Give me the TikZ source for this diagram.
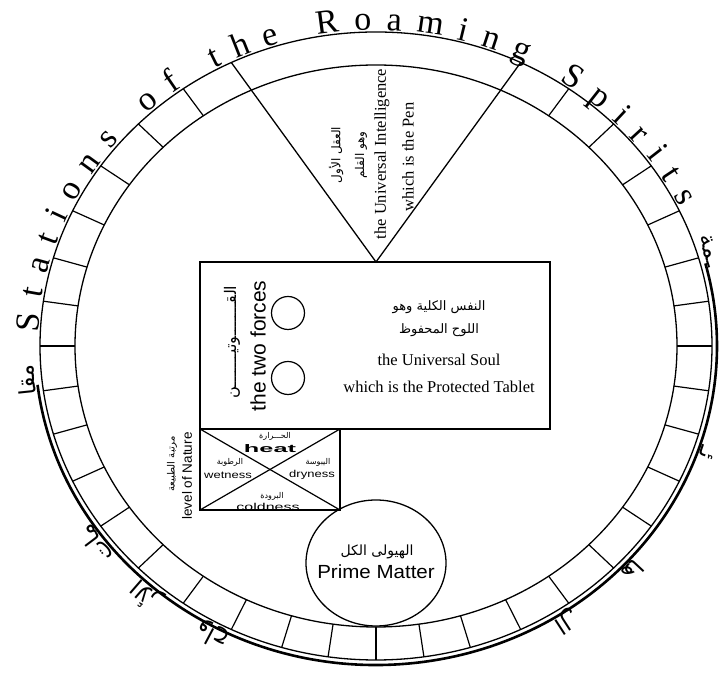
\documentclass[tikz,border=0pt]{standalone}
\usepackage{fontspec}
\usepackage{graphicx}
\setmainfont{Liberation Serif}
\newfontfamily\sansf{Liberation Sans}
\newfontfamily\arabicfont[Script=Arabic]{DejaVu Sans}
\TeXXeTstate=1
\usetikzlibrary{decorations.text,shapes.geometric}
\newcommand\setfs[1]{\fontsize{#1}{#1}\selectfont}
\newcommand\arx[1]{{\arabicfont\beginR #1\endR}}
\newcommand\toptext{\fontsize{34}{34}\selectfont\rmfamily}
\tikzset{
  ringline/.style={line width=1.3pt},
  tickline/.style={line width=1.2pt},
  boxline/.style={line width=1.3pt},
  thickarc/.style={line width=2.6pt},
  outerar/.style={font=\arabicfont\setfs{23}, inner sep=0pt, anchor=base},
  vtext/.style={rotate=90, inner sep=0pt},
  serifl/.style={font=\rmfamily\setfs{16.5}, inner sep=0pt},
  smallar/.style={font=\arabicfont\setfs{8}, inner sep=0pt},
  widelab/.style={font=\sansf\setfs{10}, inner sep=0pt}
}
\begin{document}
\begin{tikzpicture}[x=1pt,y=1pt]
\useasboundingbox (0,0) rectangle (726,676);
\coordinate (C) at (376,330);
\begin{scope}[shift={(C)}]
  \draw[ringline] (0,0) ellipse [x radius=336, y radius=314];
  \draw[ringline] (0,0) ellipse [x radius=301, y radius=281];
  \foreach \a in {0,8.2,16.3,25.5,35,45,55,125,135,145,154.5,163.7,171.8,180,
                  188.2,196.3,205.5,215,225,235,244.5,253.7,261.8,270,
                  278.2,286.3,295.5,305,315,325,334.5,343.7,351.8}
    \draw[tickline] (\a:301 and 281) -- (\a:336 and 314);
  \draw[thickarc] (187:341 and 319) arc[start angle=187, end angle=375, x radius=341, y radius=319];
  \path[decorate, decoration={text along path,
      text={|\toptext|Stations of the Roaming Spirits},
      text align={fit to path}, raise=1pt}]
    (177.5:337 and 315) arc[start angle=177.5, end angle=26, x radius=337, y radius=315];
  % Arabic calligraphic title along the lower arc
  \node[outerar, rotate=96]  (o1) at (186:343 and 321) {\arx{مقا}};
  \node[outerar, rotate=127] (o2) at (217:343 and 321) {\arx{مات}};
  \node[outerar, rotate=139] (o3) at (229:343 and 321) {\arx{الأر}};
  \node[outerar, rotate=152] (o4) at (242:343 and 321) {\arx{واح}};
  \node[outerar, rotate=213] (o5) at (303:343 and 321) {\arx{ال}};
  \node[outerar, rotate=227] (o6) at (317:343 and 321) {\arx{ها}};
  \node[outerar, rotate=251] (o7) at (341:343 and 321) {\arx{ئـ}};
  \node[outerar, rotate=288] (o8) at (17:343 and 321) {\arx{ـمة}};
  \coordinate (TL) at (115.5:336 and 314);
  \coordinate (TR) at (64.5:336 and 314);
\end{scope}
% triangle
\coordinate (A) at (376,414);
\draw[boxline] (TL) -- (A) -- (TR);
% main rectangle
\coordinate (R1) at (200,247);
\coordinate (R2) at (550,414);
\draw[boxline] (R1) rectangle (R2);
% nature box
\coordinate (N1) at (200,166);
\coordinate (N2) at (340,247);
\coordinate (N3) at (200,247);
\coordinate (N4) at (340,166);
\draw[boxline] (N1) rectangle (N2);
\draw[tickline] (N1) -- (N2);
\draw[tickline] (N3) -- (N4);
% two small circles
\node[draw, circle, line width=1.2pt, minimum size=33pt, inner sep=0pt] (c1) at (288,363) {};
\node[draw, circle, line width=1.2pt, minimum size=33pt, inner sep=0pt] (c2) at (288,298) {};
% prime matter
\node[draw, ellipse, line width=1.3pt, minimum width=140pt, minimum height=126pt, inner sep=0pt] (pm) at (376,113) {};
\node[font=\arabicfont\setfs{14}, inner sep=0pt] (pma) at (377,124) {\arx{الهيولى الكل}};
\node[font=\sansf\setfs{19}, inner sep=0pt] (pmb) at (376,104) {\scalebox{1.08}[1]{Prime Matter}};
% triangle texts
\node[vtext, font=\arabicfont\setfs{12}] (t1) at (336,521) {\arx{العقل الأول}};
\node[vtext, font=\arabicfont\setfs{12}] (t2) at (361,521) {\arx{وهو القلم}};
\node[vtext, font=\rmfamily\setfs{16.5}] (t3) at (382,522) {the Universal Intelligence};
\node[vtext, font=\rmfamily\setfs{16.5}] (t4) at (408,519) {which is the Pen};
% rectangle texts
\node[vtext, font=\arabicfont\setfs{16}] (f1) at (232,334) {\arx{القـــــــوتيـــــــن}};
\node[vtext, font=\sansf\setfs{21}] (f2) at (258,330) {the two forces};
\node[font=\arabicfont\setfs{13}, inner sep=0pt] (s1) at (439,369) {\arx{النفس الكلية وهو}};
\node[font=\arabicfont\setfs{13}, inner sep=0pt] (s2) at (439,346) {\arx{اللوح المحفوظ}};
\node[serifl] (s3) at (439,316) {the Universal Soul};
\node[serifl] (s4) at (439,289) {which is the Protected Tablet};
% nature labels
\node[vtext, font=\sansf\setfs{13.5}] (n1) at (187,200) {level of Nature};
\node[vtext, font=\arabicfont\setfs{10}] (n2) at (172,212) {\arx{مرتبة الطبيعة}};
\node[smallar] (h1) at (275,240) {\arx{الحـــرارة}};
\node[font=\sansf\bfseries\setfs{11}, inner sep=0pt] (h2) at (270,227.5) {\scalebox{2.3}[1]{heat}};
\node[smallar] (w1) at (230,214) {\arx{الرطوبة}};
\node[widelab] (w2) at (228,201) {\scalebox{1.3}[1]{wetness}};
\node[smallar] (d1) at (318,214) {\arx{اليبوسة}};
\node[widelab] (d2) at (312,201) {\scalebox{1.3}[1]{dryness}};
\node[smallar] (k1) at (272,180) {\arx{البرودة}};
\node[widelab] (k2) at (268,169.5) {\scalebox{1.6}[1]{coldness}};
\end{tikzpicture}
\end{document}
